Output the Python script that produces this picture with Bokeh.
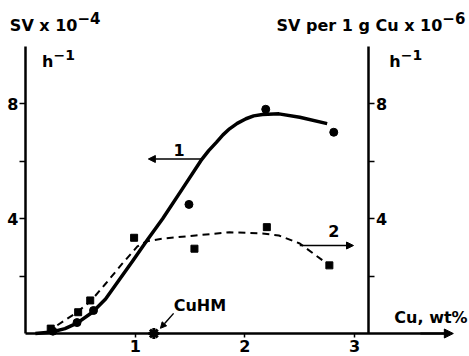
from bokeh.plotting import figure
from bokeh.models import Range1d, LinearAxis, FixedTicker, Label, Arrow, NormalHead
from bokeh.embed import file_html
from bokeh.resources import INLINE

# ---- data ----
cu_pts1 = [0.25, 0.47, 0.62, 1.49, 2.19, 2.81]
sv_pts1 = [0.08, 0.38, 0.80, 4.49, 7.80, 7.00]

cu_pts2 = [0.23, 0.48, 0.59, 0.99, 1.54, 2.20, 2.77]
sv_pts2 = [0.17, 0.74, 1.15, 3.33, 2.95, 3.70, 2.37]

curve1_x = [0.09, 0.24, 0.36, 0.47, 0.61, 0.73, 0.85, 0.98, 1.11, 1.25, 1.43, 1.60, 1.67, 1.74,
            1.80, 1.86, 1.93, 2.01, 2.08, 2.16, 2.31, 2.50, 2.75]
curve1_y = [0.00, 0.05, 0.17, 0.36, 0.74, 1.20, 1.84, 2.54, 3.25, 3.99, 5.03, 6.02, 6.36, 6.65,
            6.91, 7.12, 7.31, 7.47, 7.57, 7.62, 7.64, 7.52, 7.30]

curve2_x = [0.20, 0.24, 0.47, 0.60, 0.73, 0.88, 1.02, 1.10, 1.25, 1.55, 1.86, 2.16, 2.31, 2.50, 2.77]
curve2_y = [0.05, 0.16, 0.74, 1.15, 1.73, 2.42, 3.03, 3.20, 3.30, 3.41, 3.52, 3.48, 3.41, 3.13, 2.37]

cuhm_x = [1.17]
cuhm_y = [0.0]

left_ticks = [2, 4, 6, 8]
right_ticks = [2, 4, 6, 8]
x_ticks = [1, 2, 3]
y_labels = {2: "", 4: "4", 6: "", 8: "8"}

FONT = "DejaVu Sans"
FS = "16px"

p = figure(width=469, height=356, output_backend="svg", toolbar_location=None,
           x_range=Range1d(-0.2279, 4.0474), y_range=Range1d(-0.80, 11.583),
           x_axis_location=None, y_axis_location=None, min_border=0)
p.outline_line_color = None
p.xgrid.visible = False
p.ygrid.visible = False
p.background_fill_color = "white"
p.border_fill_color = "white"


def style_axis(ax):
    ax.axis_line_width = 2.5
    ax.axis_line_color = "black"
    ax.major_tick_line_width = 1.5
    ax.major_tick_line_color = "black"
    ax.minor_tick_line_color = None
    ax.major_tick_in = 0
    ax.major_label_text_font = FONT
    ax.major_label_text_font_style = "bold"
    ax.major_label_text_font_size = FS
    ax.major_label_text_color = "black"


left = LinearAxis(fixed_location=0, bounds=(0, 10), ticker=FixedTicker(ticks=left_ticks),
                  major_label_overrides=y_labels)
style_axis(left)
left.major_tick_out = 6
left.major_label_standoff = 1
p.add_layout(left, "left")

right = LinearAxis(fixed_location=3.131, bounds=(0, 10), ticker=FixedTicker(ticks=right_ticks),
                   major_label_overrides=y_labels)
style_axis(right)
right.major_tick_out = 6
right.major_label_standoff = 1
p.add_layout(right, "right")

bottom = LinearAxis(fixed_location=0, bounds=(0, 3.85), ticker=FixedTicker(ticks=x_ticks))
style_axis(bottom)
bottom.major_tick_out = 4
bottom.major_label_standoff = 2
p.add_layout(bottom, "below")

# axis arrow head
p.add_layout(Arrow(end=NormalHead(size=9, fill_color="black", line_color="black"),
                   x_start=3.6, y_start=0, x_end=3.90, y_end=0, line_width=2))

# curves
p.line(curve1_x, curve1_y, line_width=3.5, line_color="black", line_join="round")
p.line(curve2_x, curve2_y, line_width=2, line_color="black", line_dash="7 5", line_join="round")

# points
p.scatter(cu_pts1, sv_pts1, marker="circle", size=8, fill_color="black", line_color="black")
p.scatter(cu_pts2, sv_pts2, marker="square", size=7, fill_color="black", line_color="black")
p.scatter(cuhm_x, cuhm_y, marker="asterisk", size=11, line_color="black", line_width=3)

# series arrows
p.add_layout(Arrow(end=NormalHead(size=7, fill_color="black", line_color="black"),
                   x_start=1.61, y_start=6.07, x_end=1.12, y_end=6.07, line_width=1.5))
p.add_layout(Arrow(end=NormalHead(size=7, fill_color="black", line_color="black"),
                   x_start=2.50, y_start=3.06, x_end=2.99, y_end=3.06, line_width=1.5))
p.add_layout(Arrow(end=NormalHead(size=6, fill_color="black", line_color="black"),
                   x_start=1.35, y_start=0.70, x_end=1.23, y_end=0.18, line_width=1.5))


def lab(x, y, text, align="left", baseline="middle", size=FS):
    p.add_layout(Label(x=x, y=y, text=text, text_font=FONT, text_font_style="bold",
                       text_font_size=size, text_align=align, text_baseline=baseline,
                       text_color="black"))


lab(1.40, 6.40, "1", align="center")
lab(2.81, 3.58, "2", align="center")
lab(1.59, 0.97, "CuHM", align="center")
lab(4.03, 0.56, "Cu, wt%", align="right")

# left axis title
lab(0.474, 10.71, "SV x 10", align="right")
lab(0.474, 10.96, "\u22124", align="left", size="15px")
lab(0.255, 9.46, "h", align="right")
lab(0.255, 9.68, "\u22121", align="left", size="14px")

# right axis title
lab(3.80, 10.71, "SV per 1 g Cu x 10", align="right")
lab(3.80, 10.96, "\u22126", align="left", size="15px")
lab(3.42, 9.46, "h", align="right")
lab(3.42, 9.68, "\u22121", align="left", size="14px")

open("out.html", "w").write(file_html(p, INLINE))
